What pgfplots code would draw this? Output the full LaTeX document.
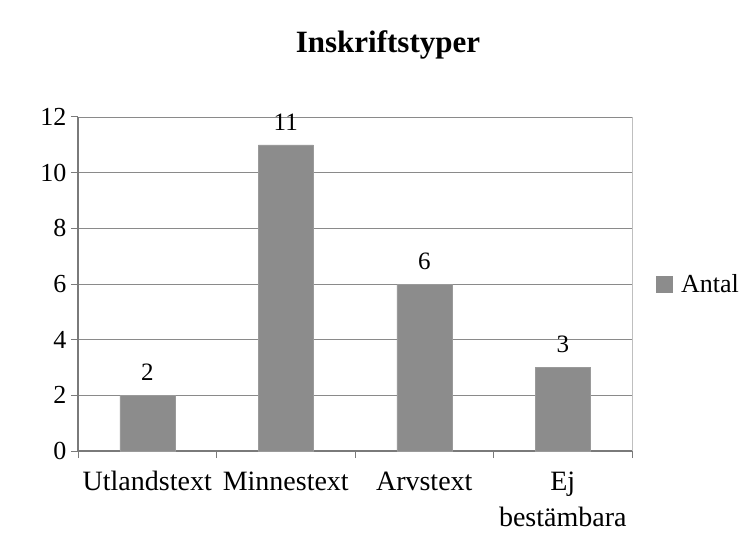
\documentclass[border=0pt]{standalone}
\usepackage{pgfplots}
\pgfplotsset{compat=1.18}
\usepackage{fontspec}
\setmainfont{Liberation Serif}
\definecolor{barfill}{HTML}{8C8C8C}
\definecolor{baredge}{HTML}{9A9A9A}
\definecolor{gridc}{HTML}{8A8A8A}
\definecolor{axc}{HTML}{7A7A7A}
\begin{document}
\begin{tikzpicture}[x=1pt,y=1pt]
\useasboundingbox (0,0) rectangle (747,555);
\node[font=\fontsize{31}{36}\selectfont\bfseries] at (388,510) {Inskriftstyper};
\begin{axis}[
  at={(78pt,104pt)}, anchor=south west,
  scale only axis, width=554pt, height=334pt,
  ymin=0, ymax=12, ytick={0,2,...,12},
  xmin=-0.5, xmax=3.5,
  xtick={-0.5,0.5,1.5,2.5,3.5},
  xticklabels={Utlandstext,Minnestext,Arvstext,Ej\\bestämbara},
  x tick label as interval,
  xticklabel style={align=center, font=\fontsize{28}{36}\selectfont, yshift=-10pt},
  yticklabel style={font=\fontsize{26}{28}\selectfont, xshift=-1pt},
  /pgf/number format/assume math mode=true,
  axis x line*=bottom, axis y line*=left,
  axis line style={axc, line width=1.5pt, -},
  tick style={axc, line width=1pt},
  major tick length=7pt,
  tick align=outside,
  ymajorgrids, grid style={gridc, line width=0.8pt},
  legend style={at={(1,0.5)}, anchor=west, xshift=21pt, draw=none, fill=none,
    font=\fontsize{26}{30}\selectfont},
  legend image code/.code={\fill[barfill, draw=none] (0pt,-8.5pt) rectangle (17pt,8.5pt); \path[draw=none, fill=none] (0pt,0pt) -- (23pt,0pt);},
  nodes near coords,
  nodes near coords style={font=\fontsize{25}{28}\selectfont, anchor=south, yshift=11pt},
  clip=false,
]
\addplot[ybar, bar width=55pt, fill=barfill, draw=baredge, line width=0.5pt]
  coordinates {(0,2) (1,11) (2,6) (3,3)};
\addlegendentry{Antal}
\draw[gray!50, line width=1pt] (rel axis cs:1,0) -- (rel axis cs:1,1);
\end{axis}
\end{tikzpicture}
\end{document}
